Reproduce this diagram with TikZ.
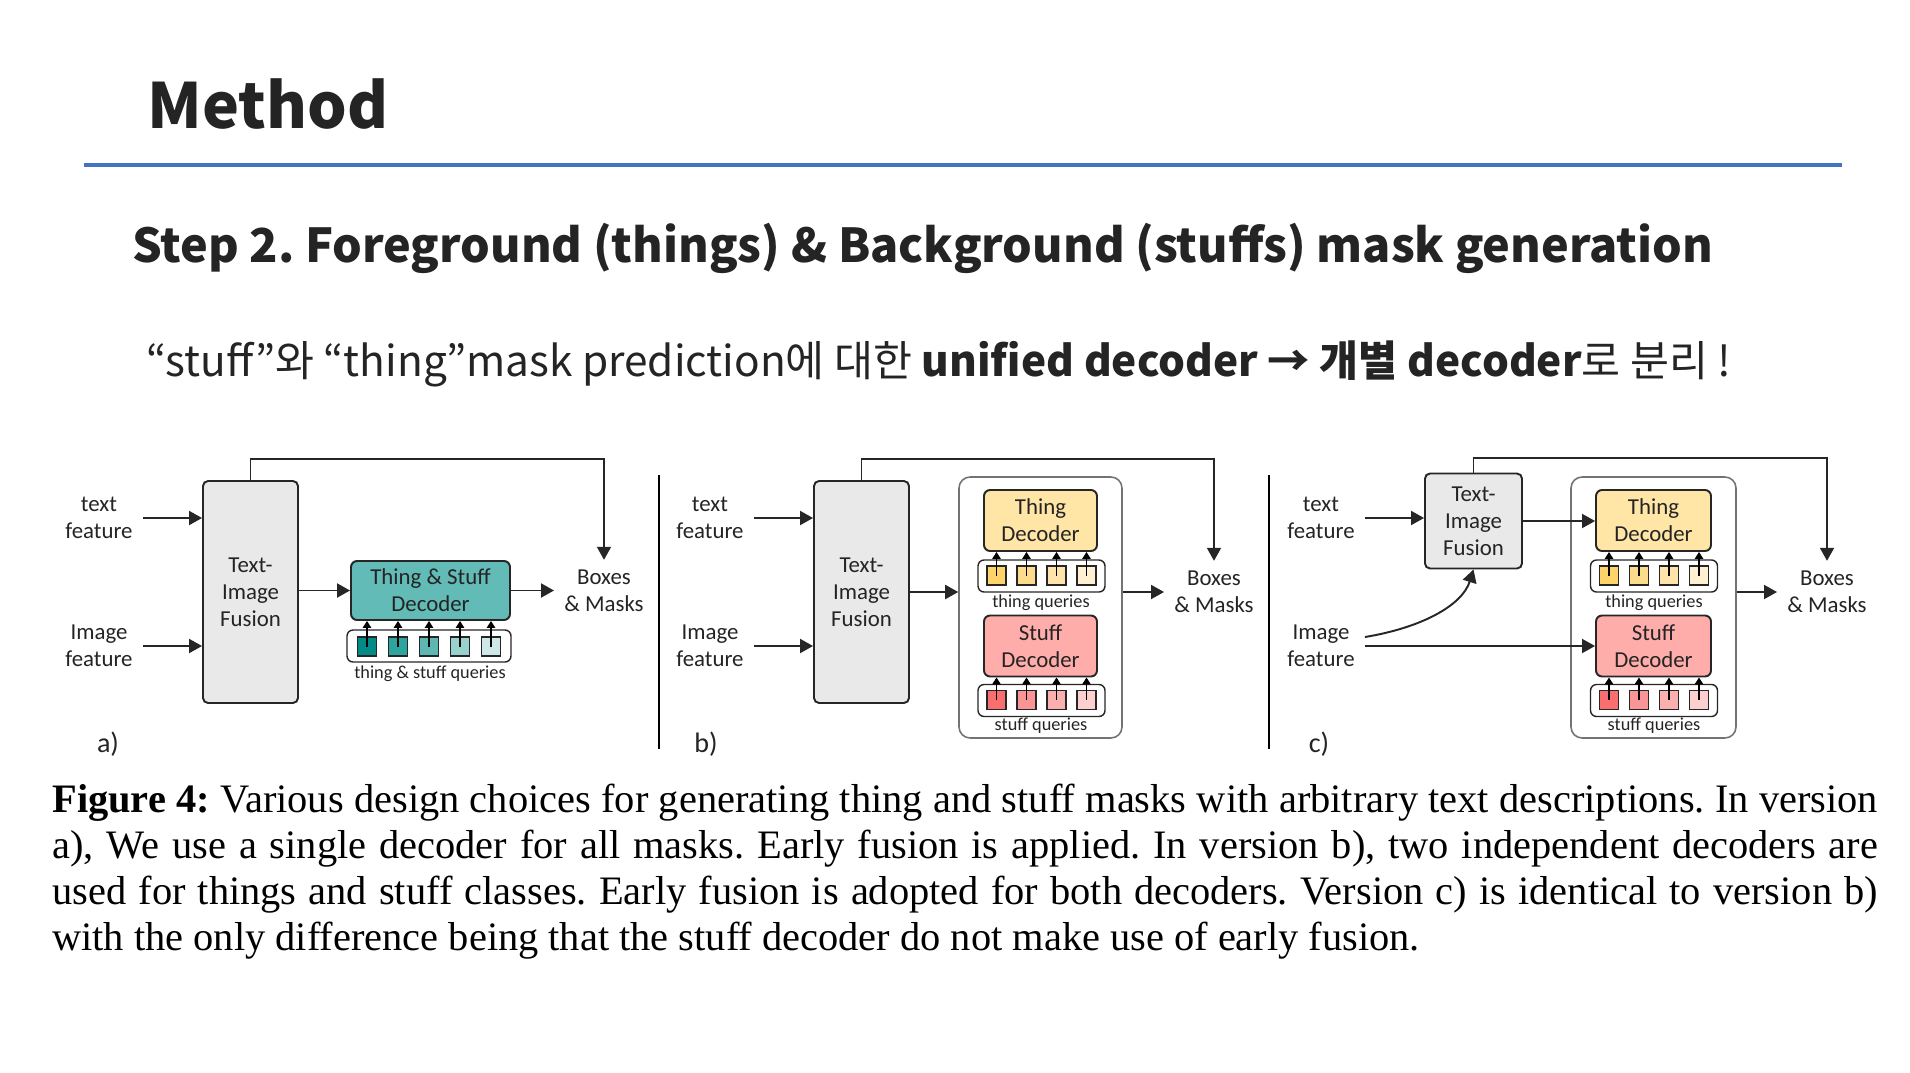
\documentclass[tikz,border=0pt]{standalone}
\usepackage{fontspec}
\setmainfont{Liberation Serif}
\newfontfamily\krfont{Noto Sans CJK KR}
\newfontfamily\figfont{Carlito}
\usepackage{tikz}
\usetikzlibrary{arrows.meta,positioning,calc}
\frenchspacing
\definecolor{slideBlue}{RGB}{68,114,196}
\definecolor{inkGray}{RGB}{36,36,36}
\definecolor{fusionGray}{RGB}{233,233,233}
\definecolor{tealDec}{RGB}{98,187,182}
\definecolor{tealQ1}{RGB}{0,139,135}
\definecolor{tealQ2}{RGB}{46,164,159}
\definecolor{tealQ3}{RGB}{93,184,180}
\definecolor{tealQ4}{RGB}{152,209,206}
\definecolor{tealQ5}{RGB}{205,232,230}
\definecolor{thingDec}{RGB}{255,229,166}
\definecolor{thingQ1}{RGB}{255,211,107}
\definecolor{thingQ2}{RGB}{253,219,140}
\definecolor{thingQ3}{RGB}{254,227,170}
\definecolor{thingQ4}{RGB}{255,240,210}
\definecolor{stuffDec}{RGB}{255,173,171}
\definecolor{stuffQ1}{RGB}{249,111,111}
\definecolor{stuffQ2}{RGB}{249,149,149}
\definecolor{stuffQ3}{RGB}{251,176,176}
\definecolor{stuffQ4}{RGB}{253,208,207}
\tikzset{
  fusionbox/.style={draw=black!85, fill=fusionGray, rounded corners=0.1cm, line width=1.1pt,
    inner sep=0pt, font=\figfont\fontsize{13}{15.3}\selectfont, align=center, text=inkGray},
  decbox/.style={draw=black!85, rounded corners=0.12cm, line width=1.1pt, inner sep=0pt,
    font=\figfont\fontsize{13}{15.3}\selectfont, align=center, text=inkGray},
  qrow/.style={draw=black!85, rounded corners=0.12cm, line width=0.8pt, minimum height=0.64cm, inner sep=0pt},
  qsq/.style={draw=black!85, line width=1pt, minimum size=0.38cm, inner sep=0pt},
  outerbox/.style={draw=black!55, rounded corners=0.22cm, line width=0.9pt, inner sep=0pt},
  lbl/.style={font=\figfont\fontsize{13}{15.3}\selectfont, align=center, text=inkGray, inner sep=0.2cm},
  qlbl/.style={font=\figfont\fontsize{10.4}{12}\selectfont, text=inkGray, inner sep=0pt},
  arr/.style={-{Triangle[length=0.26cm,width=0.28cm]}, line width=1.1pt, draw=black!85},
  qarr/.style={-{Triangle[length=0.14cm,width=0.17cm]}, line width=0.8pt, draw=black},
  sep/.style={line width=1.4pt, draw=black},
  tagl/.style={font=\figfont\fontsize{16}{18}\selectfont, text=inkGray, inner sep=0pt}
}
\begin{document}
\begin{tikzpicture}[x=0.02cm, y=-0.02cm]
\useasboundingbox (0,0) rectangle (1910,1072);

% Slide header
\node[anchor=base west, inner sep=0pt, text=inkGray, font=\krfont\bfseries\fontsize{35.5}{42}\selectfont] (title) at (147,128) {Method};
\draw[slideBlue, line width=2.6pt] (84,165) -- (1842,165);
\node[anchor=base west, inner sep=0pt, text=inkGray, font=\krfont\bfseries\fontsize{26.6}{32}\selectfont] (step) at (132,262)
  {Step 2. Foreground (things) \& Background (stuffs) mask generation};
\node[anchor=base west, inner sep=0pt, text=inkGray, font=\krfont\fontsize{24.1}{30}\selectfont] (note) at (146,376)
  {“stuff”와 “thing”mask prediction에 대한 {\bfseries unified decoder → 개별 decoder}로 분리 !};

% a) single decoder
\node[lbl] (txtA) at (99,518) {text\\feature};
\node[lbl] (imgA) at (99,646) {Image\\feature};
\node[fusionbox, minimum width=1.9cm, minimum height=4.44cm] (fusA) at (250.5,592) {Text-\\Image\\Fusion};
\node[decbox, fill=tealDec, minimum width=3.18cm, minimum height=1.18cm] (decA) at (430.5,590.5) {Thing \& Stuff\\Decoder};
\node[qrow, minimum width=3.28cm] (qrowA) at (429,646) {};
\foreach \i/\c in {1/tealQ1,2/tealQ2,3/tealQ3,4/tealQ4,5/tealQ5} {
  \pgfmathsetmacro{\qx}{336+31*\i}
  \node[qsq, fill=\c] (qa\i) at (\qx,646.5) {};
  \draw[qarr] (qa\i.center) -- (qa\i.center |- decA.south);
}
\node[qlbl] (qlabA) at (430,674) {thing \& stuff queries};
\node[lbl] (boxA) at (604,591) {Boxes\\\& Masks};
\draw[arr] (txtA.east) -- (txtA.east -| fusA.west);
\draw[arr] (imgA.east) -- (imgA.east -| fusA.west);
\draw[arr] (fusA.east |- decA.west) -- (decA.west);
\draw[arr] (decA.east) -- (decA.east -| boxA.west);
\draw[arr] (fusA.north) -- ++(0,-21) -| (boxA.north);
\node[tagl] (tagA) at (108,744) {a)};

\draw[sep] (659,475) -- (659,749);

% b) two decoders, both fused
\node[lbl] (txtB) at (710,518) {text\\feature};
\node[lbl] (imgB) at (710,646) {Image\\feature};
\node[fusionbox, minimum width=1.9cm, minimum height=4.44cm] (fusB) at (861.5,592) {Text-\\Image\\Fusion};
\node[outerbox, minimum width=3.26cm, minimum height=5.22cm] (conB) at (1040.5,607.5) {};
\node[decbox, fill=thingDec, minimum width=2.26cm, minimum height=1.22cm] (thdB) at (1040.5,520.5) {Thing\\Decoder};
\node[decbox, fill=stuffDec, minimum width=2.26cm, minimum height=1.22cm] (stdB) at (1040.5,646) {Stuff\\Decoder};
\node[qrow, minimum width=2.54cm] (tqB) at (1041.5,576) {};
\node[qrow, minimum width=2.54cm] (sqB) at (1041.5,700.5) {};
\foreach \i in {1,...,4} {
  \pgfmathsetmacro{\qx}{966.5+30*\i}
  \node[qsq, fill=thingQ\i] (tb\i) at (\qx,575.5) {};
  \node[qsq, fill=stuffQ\i] (sb\i) at (\qx,700) {};
  \draw[qarr] (tb\i.center) -- (tb\i.center |- thdB.south);
  \draw[qarr] (sb\i.center) -- (sb\i.center |- stdB.south);
}
\node[qlbl] (tlabB) at (1041,603) {thing queries};
\node[qlbl] (slabB) at (1041,726) {stuff queries};
\node[lbl] (boxB) at (1214,592) {Boxes\\\& Masks};
\draw[arr] (txtB.east) -- (txtB.east -| fusB.west);
\draw[arr] (imgB.east) -- (imgB.east -| fusB.west);
\draw[arr] (fusB.east) -- (fusB.east -| conB.west);
\draw[arr] (boxB.west -| conB.east) -- (boxB.west);
\draw[arr] (fusB.north) -- ++(0,-21) -| (boxB.north);
\node[tagl] (tagB) at (706,744) {b)};

\draw[sep] (1269,475) -- (1269,749);

% c) stuff decoder without early fusion
\node[lbl] (txtC) at (1321,518) {text\\feature};
\node[lbl] (imgC) at (1321,646) {Image\\feature};
\node[fusionbox, minimum width=1.94cm, minimum height=1.9cm] (fusC) at (1473.5,521) {Text-\\Image\\Fusion};
\node[outerbox, minimum width=3.3cm, minimum height=5.22cm] (conC) at (1653.5,607.5) {};
\node[decbox, fill=thingDec, minimum width=2.3cm, minimum height=1.22cm] (thdC) at (1653.5,520.5) {Thing\\Decoder};
\node[decbox, fill=stuffDec, minimum width=2.3cm, minimum height=1.22cm] (stdC) at (1653.5,646) {Stuff\\Decoder};
\node[qrow, minimum width=2.54cm] (tqC) at (1654,576) {};
\node[qrow, minimum width=2.54cm] (sqC) at (1654,700.5) {};
\foreach \i in {1,...,4} {
  \pgfmathsetmacro{\qx}{1579+30*\i}
  \node[qsq, fill=thingQ\i] (tc\i) at (\qx,575.5) {};
  \node[qsq, fill=stuffQ\i] (sc\i) at (\qx,700) {};
  \draw[qarr] (tc\i.center) -- (tc\i.center |- thdC.south);
  \draw[qarr] (sc\i.center) -- (sc\i.center |- stdC.south);
}
\node[qlbl] (tlabC) at (1654,603) {thing queries};
\node[qlbl] (slabC) at (1654,726) {stuff queries};
\node[lbl] (boxC) at (1827,592) {Boxes\\\& Masks};
\draw[arr] (txtC.east) -- (txtC.east -| fusC.west);
\draw[arr] (fusC.east) -- (fusC.east -| thdC.west);
\draw[arr] (imgC.east) -- (imgC.east -| stdC.west);
\draw[arr] ([yshift=0.18cm]imgC.east) .. controls (1420,628) and (1462,606) .. (fusC.south);
\draw[arr] (boxC.west -| conC.east) -- (boxC.west);
\draw[arr] (fusC.north) -- ++(0,-15) -| (boxC.north);
\node[tagl] (tagC) at (1319,744) {c)};

% Caption
\node[anchor=north west, text width=36.52cm, align=justify, inner sep=0pt, font=\fontsize{23}{26.2}\selectfont] (cap) at (52,784)
  {\textbf{Figure 4:} Various design choices for generating thing and stuff masks with arbitrary text descriptions. In version\linebreak
   a), We use a single decoder for all masks. Early fusion is applied. In version b), two independent decoders are\linebreak
   used for things and stuff classes. Early fusion is adopted for both decoders. Version c) is identical to version b)\linebreak
   with the only difference being that the stuff decoder do not make use of early fusion.};
\end{tikzpicture}
\end{document}
